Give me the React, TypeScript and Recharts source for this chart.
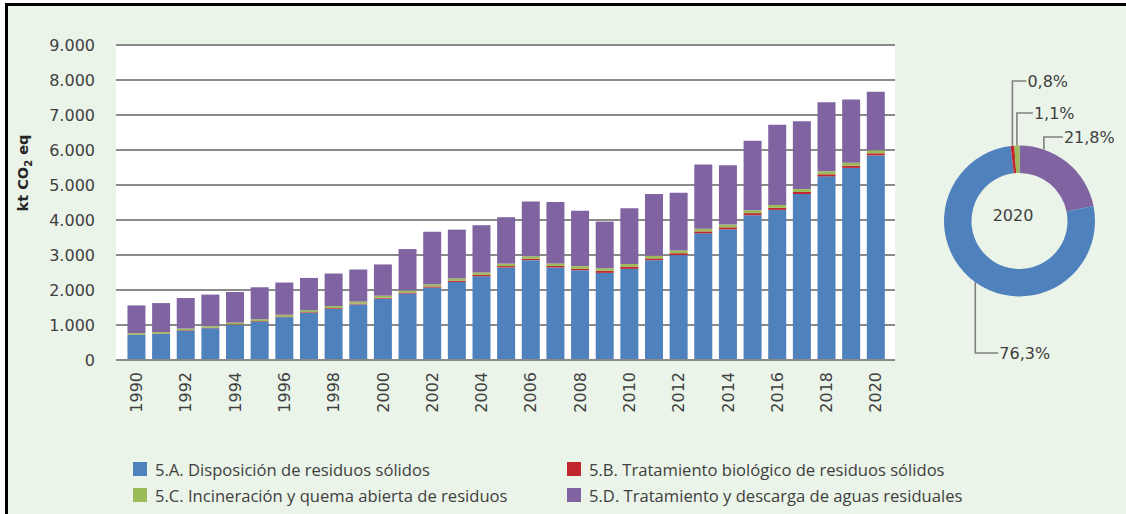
import React from 'react';
import { BarChart, Bar, XAxis, YAxis, CartesianGrid, Legend, Label, PieChart, Pie, Cell } from 'recharts';

const years = [
  '1990', '1991', '1992', '1993', '1994', '1995', '1996', '1997', '1998', '1999', '2000',
  '2001', '2002', '2003', '2004', '2005', '2006', '2007', '2008', '2009', '2010',
  '2011', '2012', '2013', '2014', '2015', '2016', '2017', '2018', '2019', '2020',
];

// kt CO2 eq per subcategory
const solidWaste = [
  718, 747, 842, 908, 1006, 1100, 1224, 1350, 1465, 1589, 1753,
  1897, 2069, 2230, 2394, 2644, 2853, 2644, 2566, 2489, 2604,
  2853, 2997, 3620, 3736, 4138, 4290, 4741, 5247, 5489, 5845,
];
const biological = [
  10, 10, 12, 12, 14, 15, 16, 18, 20, 22, 25,
  28, 32, 35, 38, 40, 42, 44, 45, 60, 65,
  50, 55, 55, 55, 58, 58, 60, 60, 62, 61,
];
const incineration = [
  40, 42, 44, 46, 48, 50, 52, 54, 56, 58, 60,
  62, 64, 66, 68, 70, 70, 72, 72, 74, 74,
  76, 76, 78, 80, 80, 82, 82, 84, 84, 84,
];
const wastewater = [
  792, 827, 872, 902, 875, 913, 921, 923, 930, 917, 892,
  1183, 1502, 1393, 1351, 1326, 1564, 1751, 1578, 1331, 1596,
  1762, 1651, 1830, 1693, 1988, 2294, 1936, 1974, 1807, 1671,
];

const seriesNames = [
  '5.A. Disposición de residuos sólidos',
  '5.B. Tratamiento biológico de residuos sólidos',
  '5.C. Incineración y quema abierta de residuos',
  '5.D. Tratamiento y descarga de aguas residuales',
];
const seriesKeys = ['a', 'b', 'c', 'd'];
const seriesColors = ['#4f81bd', '#c1272d', '#9bbb59', '#8064a2'];
const seriesValues = [solidWaste, biological, incineration, wastewater];

const yTicks = [0, 1000, 2000, 3000, 4000, 5000, 6000, 7000, 8000, 9000];
const donutYear = '2020';
// slices go clockwise from 12 o'clock in this order
const pieOrder = [3, 0, 1, 2];

const chartData = years.map((year, i) => ({
  year,
  a: solidWaste[i],
  b: biological[i],
  c: incineration[i],
  d: wastewater[i],
}));

const last = years.indexOf(donutYear);
const pieData = pieOrder.map(i => ({ idx: i, name: seriesNames[i], value: seriesValues[i][last] }));

// leader line shape for each slice label: where on the arc, how far up/down, how long
const leader = [
  { at: 0.5, rise: 132, run: 23 },
  { at: 0.5, rise: -140, run: 14 },
  { at: 0.5, rise: -108, run: 16 },
  { at: 0.24, rise: -84, run: 19 },
];

const TEXT = '#404040';
const NUM_FONT = 'DejaVu Sans';
const GRID = '#8a8a8a';
const RAD = Math.PI / 180;

const fmtThousands = (v: number) => String(v).replace(/\B(?=(\d{3})+(?!\d))/g, '.');

const YearTick = ({ x, y, payload }: any) => (
  <text
    x={x}
    y={y}
    transform={`rotate(-90, ${x}, ${y})`}
    textAnchor="end"
    dy="0.36em"
    fill={TEXT}
    fontSize={16}
    fontFamily={NUM_FONT}
  >
    {payload.value}
  </text>
);

const YTitle = ({ viewBox }: any) => {
  const x = viewBox.x + 23;
  const y = viewBox.y + 128;
  return (
    <text
      x={x}
      y={y}
      transform={`rotate(-90, ${x}, ${y})`}
      textAnchor="middle"
      dy="0.35em"
      fontWeight="bold"
      fontSize={14.5}
      fontFamily={NUM_FONT}
      fill="#262626"
    >
      kt CO<tspan fontSize={10} dy={4}>2</tspan><tspan dy={-4}> eq</tspan>
    </text>
  );
};

const LegendGrid = ({ payload }: any) => (
  <div style={{ position: 'relative', width: 850, height: 52 }}>
    {(payload ?? []).map((item: any, i: number) => (
      <div
        key={item.value}
        style={{
          position: 'absolute',
          left: (i % 2) * 434,
          top: Math.floor(i / 2) * 26,
          height: 16,
          display: 'flex',
          alignItems: 'center',
          whiteSpace: 'nowrap',
          fontFamily: 'Open Sans',
          fontSize: 16.6,
          color: TEXT,
        }}
      >
        <span style={{ display: 'inline-block', width: 14, height: 14, background: item.color, marginRight: 8 }} />
        <span>{item.value}</span>
      </div>
    ))}
  </div>
);

const SliceLabel = (props: any) => {
  const { cx, cy, outerRadius, startAngle, endAngle, percent } = props;
  const idx = props.payload?.idx ?? props.idx;
  const l = leader[idx];
  const ang = startAngle + (endAngle - startAngle) * l.at;
  const ax = cx + outerRadius * Math.cos(-ang * RAD);
  const ay = cy + outerRadius * Math.sin(-ang * RAD);
  const ey = cy + l.rise;
  const ex = ax + l.run;
  const pct = (percent * 100).toFixed(1).replace('.', ',') + '%';
  return (
    <g>
      <polyline points={`${ax},${ay} ${ax},${ey} ${ex},${ey}`} fill="none" stroke="#808080" strokeWidth={1.6} />
      <text x={ex + 1} y={ey} dy="0.36em" fill={TEXT} fontSize={16} fontFamily={NUM_FONT}>
        {pct}
      </text>
    </g>
  );
};

export default function App() {
  return (
    <div style={{ position: 'absolute', left: 0, top: 0, width: 1126, height: 514, background: '#fff', overflow: 'hidden' }}>
      <div
        style={{
          position: 'absolute',
          left: 5,
          top: 3,
          right: 0,
          bottom: 0,
          borderTop: '3px solid #000',
          borderLeft: '3px solid #000',
          background: '#ebf4e9',
        }}
      />
      <div style={{ position: 'absolute', left: 0, top: 0 }}>
        <BarChart
          width={1126}
          height={514}
          data={chartData}
          margin={{ top: 45, right: 231, bottom: 84, left: 0 }}
          barCategoryGap="14%"
        >
          <CartesianGrid vertical={false} stroke={GRID} strokeWidth={2} fill="#ffffff" />
          <XAxis
            dataKey="year"
            interval={1}
            height={70}
            tickLine={false}
            tickSize={0}
            tickMargin={12}
            axisLine={{ stroke: GRID, strokeWidth: 2 }}
            padding={{ left: 8, right: 7 }}
            tick={<YearTick />}
          />
          <YAxis
            width={116}
            domain={[0, 9000]}
            ticks={yTicks}
            axisLine={false}
            tickLine={false}
            tickSize={0}
            tickMargin={21}
            tickFormatter={fmtThousands}
            tick={{ fill: TEXT, fontSize: 16, fontFamily: NUM_FONT }}
          >
            <Label content={(p: any) => <YTitle viewBox={p.viewBox} />} />
          </YAxis>
          <Legend
            layout="horizontal"
            verticalAlign="middle"
            align="center"
            wrapperStyle={{ left: 133, top: 461, width: 850 }}
            content={<LegendGrid />}
          />
          {seriesKeys.map((k, i) => (
            <Bar
              key={k}
              dataKey={k}
              name={seriesNames[i]}
              stackId="s"
              fill={seriesColors[i]}
              isAnimationActive={false}
            />
          ))}
        </BarChart>
      </div>
      <div style={{ position: 'absolute', left: 900, top: 50 }}>
        <PieChart width={226} height={330} margin={{ top: 0, right: 0, bottom: 0, left: 0 }}>
          <Pie
            data={pieData}
            dataKey="value"
            nameKey="name"
            cx={119.5}
            cy={171}
            innerRadius={48}
            outerRadius={75.5}
            startAngle={90}
            endAngle={-270}
            stroke="none"
            labelLine={false}
            label={SliceLabel}
            isAnimationActive={false}
          >
            {pieData.map(d => (
              <Cell key={d.idx} fill={seriesColors[d.idx]} />
            ))}
            <Label value={donutYear} position="center" fill={TEXT} fontSize={16} fontFamily={NUM_FONT} />
          </Pie>
        </PieChart>
      </div>
    </div>
  );
}
